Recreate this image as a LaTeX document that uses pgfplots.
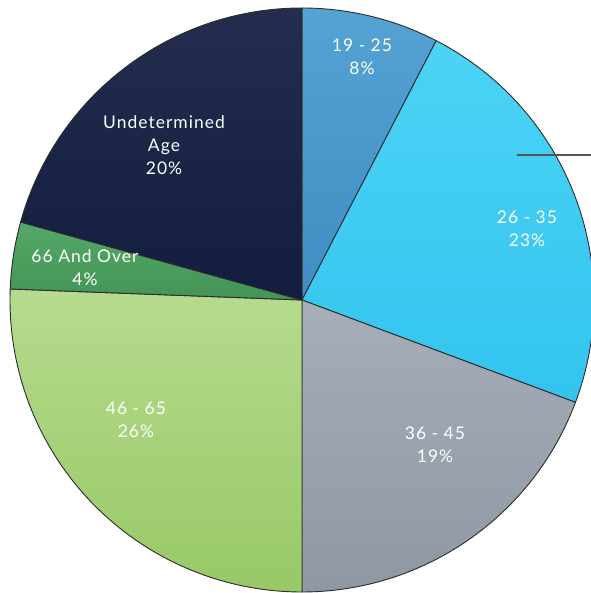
\documentclass[border=0pt]{standalone}
\usepackage{pgfplots}
\pgfplotsset{compat=1.18}
\usepackage{pgfplotstable}
\usepackage{fontspec}
\setmainfont{Lato}[LetterSpace=6]

% slice colours (top / bottom of the gentle gradient)
\definecolor{t0}{HTML}{55A3D3}\definecolor{b0}{HTML}{3F8DC2}
\definecolor{t1}{HTML}{4CD3F6}\definecolor{b1}{HTML}{33C4EE}
\definecolor{t2}{HTML}{A6AEB8}\definecolor{b2}{HTML}{8E98A3}
\definecolor{t3}{HTML}{B6DB8E}\definecolor{b3}{HTML}{98C866}
\definecolor{t4}{HTML}{55A868}\definecolor{b4}{HTML}{439456}
\definecolor{t5}{HTML}{232D4E}\definecolor{b5}{HTML}{121D3F}
\definecolor{edge}{HTML}{2B2B2B}
\definecolor{leader}{HTML}{555555}

% share of each age group, clockwise from the top
\pgfplotstableread{
pct
7.6
23.1
19.3
25.6
3.7
20.7
}\agedata

% start / end angle of every slice
\def\cum{0}%
\pgfplotsforeachungrouped \i in {0,...,5}{%
  \pgfplotstablegetelem{\i}{pct}\of\agedata%
  \pgfmathsetmacro\a{90-3.6*\cum}%
  \pgfmathsetmacro\cum{\cum+\pgfplotsretval}%
  \pgfmathsetmacro\b{90-3.6*\cum}%
  \expandafter\xdef\csname sa\i\endcsname{\a}%
  \expandafter\xdef\csname sb\i\endcsname{\b}%
}%

\begin{document}%
\begin{tikzpicture}
\begin{axis}[
  width=591bp, height=593bp, scale only axis,
  xmin=0, xmax=591, ymin=0, ymax=593,
  hide axis, clip=true,
]
\pgfplotsinvokeforeach{0,...,5}{
  \shade[top color=t#1, bottom color=b#1, draw=edge, line width=0.9bp, line join=round]
    (axis cs:302,293) -- ++(\csname sa#1\endcsname:292bp)
    arc[start angle=\csname sa#1\endcsname, end angle=\csname sb#1\endcsname, radius=292bp]
    -- cycle;
}
\draw[leader, line width=2.2bp] (axis cs:517,438) -- (axis cs:591,438);
\tikzset{lbl/.style={text=white, font=\fontsize{17.5}{23}\selectfont, align=center}}
\node[lbl] at (axis cs:362,536) {19 - 25\\8\%};
\node[lbl] at (axis cs:527,364) {26 - 35\\23\%};
\node[lbl] at (axis cs:435,148) {36 - 45\\19\%};
\node[lbl] at (axis cs:136,173) {46 - 65\\26\%};
\node[lbl] at (axis cs:85,325) {66 And Over\\4\%};
\node[lbl] at (axis cs:164,448) {Undetermined\\Age\\20\%};
\end{axis}
\pgfresetboundingbox
\path[use as bounding box] (current axis.south west) rectangle (current axis.north east);
\end{tikzpicture}%
\end{document}
